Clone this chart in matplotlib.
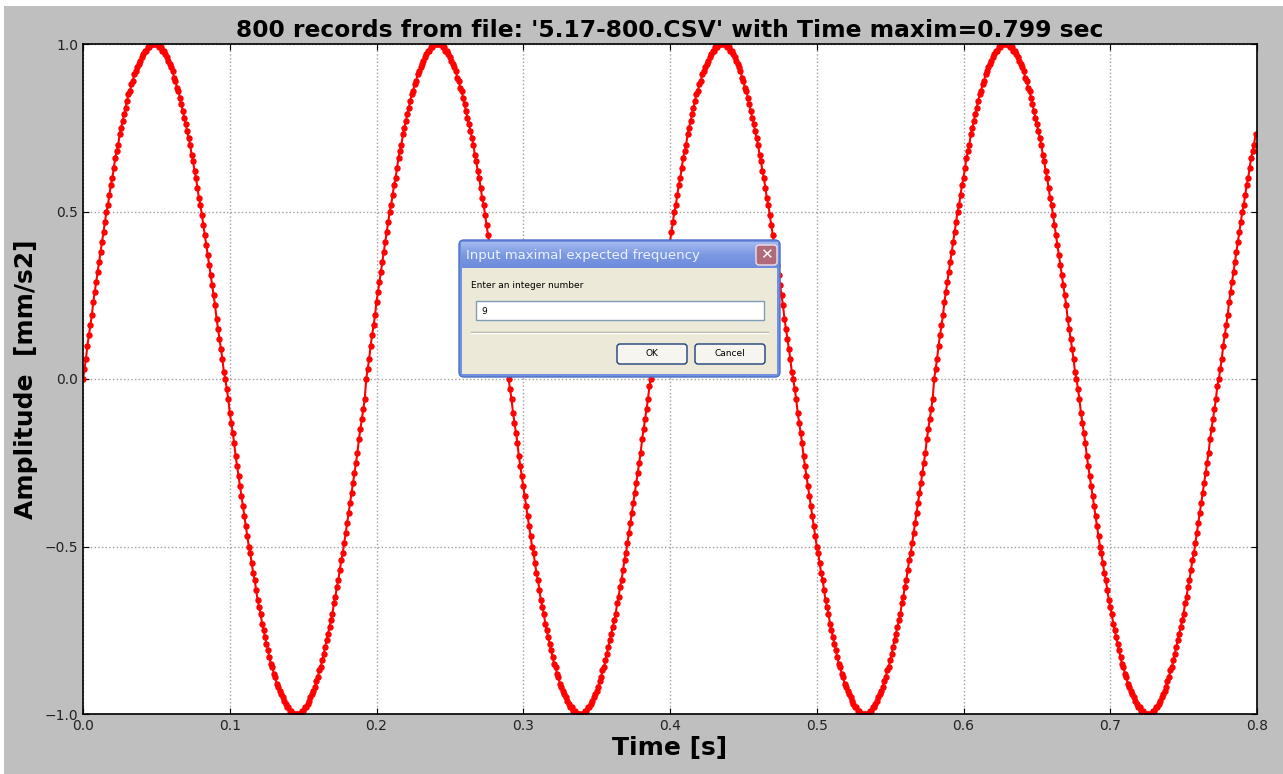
import numpy as np
import matplotlib
matplotlib.use("Agg")
import matplotlib.pyplot as plt
from matplotlib.patches import Rectangle, FancyBboxPatch

# Records read from '5.17-800.CSV' (one every 1 ms)
sample_interval = 0.001
amplitude = [
    # 0.000 - 0.096
    0.00, 0.03, 0.06, 0.10, 0.13, 0.16, 0.19, 0.23, 0.26, 0.29,
    0.32, 0.35, 0.38, 0.41, 0.44, 0.47, 0.50, 0.52, 0.55, 0.58,
    0.60, 0.63, 0.66, 0.68, 0.70, 0.73, 0.75, 0.77, 0.79, 0.81,
    0.83, 0.85, 0.86, 0.88, 0.89, 0.91, 0.92, 0.93, 0.94, 0.95,
    0.96, 0.97, 0.98, 0.98, 0.99, 0.99, 1.00, 1.00, 1.00, 1.00,
    1.00, 1.00, 0.99, 0.99, 0.98, 0.98, 0.97, 0.96, 0.95, 0.94,
    0.93, 0.92, 0.90, 0.89, 0.87, 0.86, 0.84, 0.82, 0.80, 0.78,
    0.76, 0.74, 0.72, 0.70, 0.67, 0.65, 0.62, 0.60, 0.57, 0.54,
    0.52, 0.49, 0.46, 0.43, 0.40, 0.37, 0.34, 0.31, 0.28, 0.25,
    0.22, 0.18, 0.15, 0.12, 0.09, 0.06, 0.02,
    # 0.097 - 0.192
    0.00, -0.03, -0.06, -0.10, -0.13, -0.16, -0.19, -0.23, -0.26, -0.29,
    -0.32, -0.35, -0.38, -0.41, -0.44, -0.47, -0.50, -0.52, -0.55, -0.58,
    -0.60, -0.63, -0.66, -0.68, -0.70, -0.73, -0.75, -0.77, -0.79, -0.81,
    -0.83, -0.85, -0.86, -0.88, -0.89, -0.91, -0.92, -0.93, -0.94, -0.95,
    -0.96, -0.97, -0.98, -0.98, -0.99, -0.99, -1.00, -1.00, -1.00, -1.00,
    -1.00, -1.00, -0.99, -0.99, -0.98, -0.98, -0.97, -0.96, -0.95, -0.94,
    -0.93, -0.92, -0.90, -0.89, -0.87, -0.86, -0.84, -0.82, -0.80, -0.78,
    -0.76, -0.74, -0.72, -0.70, -0.67, -0.65, -0.62, -0.60, -0.57, -0.54,
    -0.52, -0.49, -0.46, -0.43, -0.40, -0.37, -0.34, -0.31, -0.28, -0.25,
    -0.22, -0.18, -0.15, -0.12, -0.09, -0.06,
    # 0.193 - 0.289
    0.00, 0.03, 0.06, 0.10, 0.13, 0.16, 0.19, 0.23, 0.26, 0.29,
    0.32, 0.35, 0.38, 0.41, 0.44, 0.47, 0.50, 0.52, 0.55, 0.58,
    0.60, 0.63, 0.66, 0.68, 0.70, 0.73, 0.75, 0.77, 0.79, 0.81,
    0.83, 0.85, 0.86, 0.88, 0.89, 0.91, 0.92, 0.93, 0.94, 0.95,
    0.96, 0.97, 0.98, 0.98, 0.99, 0.99, 1.00, 1.00, 1.00, 1.00,
    1.00, 1.00, 0.99, 0.99, 0.98, 0.98, 0.97, 0.96, 0.95, 0.94,
    0.93, 0.92, 0.90, 0.89, 0.87, 0.86, 0.84, 0.82, 0.80, 0.78,
    0.76, 0.74, 0.72, 0.70, 0.67, 0.65, 0.62, 0.60, 0.57, 0.54,
    0.52, 0.49, 0.46, 0.43, 0.40, 0.37, 0.34, 0.31, 0.28, 0.25,
    0.22, 0.18, 0.15, 0.12, 0.09, 0.06, 0.02,
    # 0.290 - 0.386
    0.00, -0.03, -0.06, -0.10, -0.13, -0.16, -0.19, -0.23, -0.26, -0.29,
    -0.32, -0.35, -0.38, -0.41, -0.44, -0.47, -0.50, -0.52, -0.55, -0.58,
    -0.60, -0.63, -0.66, -0.68, -0.70, -0.73, -0.75, -0.77, -0.79, -0.81,
    -0.83, -0.85, -0.86, -0.88, -0.89, -0.91, -0.92, -0.93, -0.94, -0.95,
    -0.96, -0.97, -0.98, -0.98, -0.99, -0.99, -1.00, -1.00, -1.00, -1.00,
    -1.00, -1.00, -0.99, -0.99, -0.98, -0.98, -0.97, -0.96, -0.95, -0.94,
    -0.93, -0.92, -0.90, -0.89, -0.87, -0.86, -0.84, -0.82, -0.80, -0.78,
    -0.76, -0.74, -0.72, -0.70, -0.67, -0.65, -0.62, -0.60, -0.57, -0.54,
    -0.52, -0.49, -0.46, -0.43, -0.40, -0.37, -0.34, -0.31, -0.28, -0.25,
    -0.22, -0.18, -0.15, -0.12, -0.09, -0.06, -0.02,
    # 0.387 - 0.483
    0.00, 0.03, 0.06, 0.10, 0.13, 0.16, 0.19, 0.23, 0.26, 0.29,
    0.32, 0.35, 0.38, 0.41, 0.44, 0.47, 0.50, 0.52, 0.55, 0.58,
    0.60, 0.63, 0.66, 0.68, 0.70, 0.73, 0.75, 0.77, 0.79, 0.81,
    0.83, 0.85, 0.86, 0.88, 0.89, 0.91, 0.92, 0.93, 0.94, 0.95,
    0.96, 0.97, 0.98, 0.98, 0.99, 0.99, 1.00, 1.00, 1.00, 1.00,
    1.00, 1.00, 0.99, 0.99, 0.98, 0.98, 0.97, 0.96, 0.95, 0.94,
    0.93, 0.92, 0.90, 0.89, 0.87, 0.86, 0.84, 0.82, 0.80, 0.78,
    0.76, 0.74, 0.72, 0.70, 0.67, 0.65, 0.62, 0.60, 0.57, 0.54,
    0.52, 0.49, 0.46, 0.43, 0.40, 0.37, 0.34, 0.31, 0.28, 0.25,
    0.22, 0.18, 0.15, 0.12, 0.09, 0.06, 0.02,
    # 0.484 - 0.579
    0.00, -0.03, -0.06, -0.10, -0.13, -0.16, -0.19, -0.23, -0.26, -0.29,
    -0.32, -0.35, -0.38, -0.41, -0.44, -0.47, -0.50, -0.52, -0.55, -0.58,
    -0.60, -0.63, -0.66, -0.68, -0.70, -0.73, -0.75, -0.77, -0.79, -0.81,
    -0.83, -0.85, -0.86, -0.88, -0.89, -0.91, -0.92, -0.93, -0.94, -0.95,
    -0.96, -0.97, -0.98, -0.98, -0.99, -0.99, -1.00, -1.00, -1.00, -1.00,
    -1.00, -1.00, -0.99, -0.99, -0.98, -0.98, -0.97, -0.96, -0.95, -0.94,
    -0.93, -0.92, -0.90, -0.89, -0.87, -0.86, -0.84, -0.82, -0.80, -0.78,
    -0.76, -0.74, -0.72, -0.70, -0.67, -0.65, -0.62, -0.60, -0.57, -0.54,
    -0.52, -0.49, -0.46, -0.43, -0.40, -0.37, -0.34, -0.31, -0.28, -0.25,
    -0.22, -0.18, -0.15, -0.12, -0.09, -0.06,
    # 0.580 - 0.676
    0.00, 0.03, 0.06, 0.10, 0.13, 0.16, 0.19, 0.23, 0.26, 0.29,
    0.32, 0.35, 0.38, 0.41, 0.44, 0.47, 0.50, 0.52, 0.55, 0.58,
    0.60, 0.63, 0.66, 0.68, 0.70, 0.73, 0.75, 0.77, 0.79, 0.81,
    0.83, 0.85, 0.86, 0.88, 0.89, 0.91, 0.92, 0.93, 0.94, 0.95,
    0.96, 0.97, 0.98, 0.98, 0.99, 0.99, 1.00, 1.00, 1.00, 1.00,
    1.00, 1.00, 0.99, 0.99, 0.98, 0.98, 0.97, 0.96, 0.95, 0.94,
    0.93, 0.92, 0.90, 0.89, 0.87, 0.86, 0.84, 0.82, 0.80, 0.78,
    0.76, 0.74, 0.72, 0.70, 0.67, 0.65, 0.62, 0.60, 0.57, 0.54,
    0.52, 0.49, 0.46, 0.43, 0.40, 0.37, 0.34, 0.31, 0.28, 0.25,
    0.22, 0.18, 0.15, 0.12, 0.09, 0.06, 0.02,
    # 0.677 - 0.773
    0.00, -0.03, -0.06, -0.10, -0.13, -0.16, -0.19, -0.23, -0.26, -0.29,
    -0.32, -0.35, -0.38, -0.41, -0.44, -0.47, -0.50, -0.52, -0.55, -0.58,
    -0.60, -0.63, -0.66, -0.68, -0.70, -0.73, -0.75, -0.77, -0.79, -0.81,
    -0.83, -0.85, -0.86, -0.88, -0.89, -0.91, -0.92, -0.93, -0.94, -0.95,
    -0.96, -0.97, -0.98, -0.98, -0.99, -0.99, -1.00, -1.00, -1.00, -1.00,
    -1.00, -1.00, -0.99, -0.99, -0.98, -0.98, -0.97, -0.96, -0.95, -0.94,
    -0.93, -0.92, -0.90, -0.89, -0.87, -0.86, -0.84, -0.82, -0.80, -0.78,
    -0.76, -0.74, -0.72, -0.70, -0.67, -0.65, -0.62, -0.60, -0.57, -0.54,
    -0.52, -0.49, -0.46, -0.43, -0.40, -0.37, -0.34, -0.31, -0.28, -0.25,
    -0.22, -0.18, -0.15, -0.12, -0.09, -0.06, -0.02,
    # 0.774 - 0.799
    0.00, 0.03, 0.06, 0.10, 0.13, 0.16, 0.19, 0.23, 0.26, 0.29,
    0.32, 0.35, 0.38, 0.41, 0.44, 0.47, 0.50, 0.52, 0.55, 0.58,
    0.60, 0.63, 0.66, 0.68, 0.70, 0.73,
]
file_name = "5.17-800.CSV"
x_ticks = [0.0, 0.1, 0.2, 0.3, 0.4, 0.5, 0.6, 0.7, 0.8]
y_ticks = [-1.0, -0.5, 0.0, 0.5, 1.0]

time = np.arange(len(amplitude)) * sample_interval

W, H = 1283, 774
fig = plt.figure(figsize=(W / 100, H / 100), dpi=100, facecolor="white")
# grey window area (screenshot has a thin white edge top/left)
fig.add_artist(Rectangle((4 / W, 0), 1 - 4 / W, 768 / H, transform=fig.transFigure,
                         facecolor="#bfbfbf", edgecolor="none", zorder=-5))

ax = fig.add_axes([83 / W, 60 / H, 1174 / W, 670 / H])
ax.plot(time, amplitude, color="red", linewidth=1.5, marker="o", markersize=3.6,
        markeredgecolor="red", markerfacecolor="red")
ax.set_xlim(0, 0.8)
ax.set_ylim(-1, 1)
ax.set_xticks(x_ticks)
ax.set_yticks(y_ticks)
ax.tick_params(direction="in", length=4, labelsize=10, labelcolor="#222222",
               top=True, right=True)
ax.grid(True, linestyle=":", color="#a0a0a0", linewidth=1)
for s in ax.spines.values():
    s.set_linewidth(1.2)
ax.set_title(f"800 records from file: '{file_name}' with Time maxim={time[-1]:.3f} sec",
             fontsize=16.8, fontweight="bold", pad=5)
ax.set_xlabel("Time [s]", fontsize=18, fontweight="bold", labelpad=2)
ax.set_ylabel("Amplitude  [mm/s2]", fontsize=18, fontweight="bold", labelpad=5)

# the Tk input dialog sitting on top of the plot
ov = fig.add_axes([0, 0, 1, 1], zorder=10)
ov.set_xlim(0, W)
ov.set_ylim(H, 0)
ov.axis("off")
ov.patch.set_alpha(0)

ov.add_patch(FancyBboxPatch((459, 240), 321, 137, boxstyle="round,pad=0,rounding_size=5",
                            facecolor="#7090e0", edgecolor="#4f6fc8", linewidth=1))
grad = np.linspace(0, 1, 30).reshape(-1, 1)
ov.imshow(grad, extent=(461, 778, 268, 242), cmap=matplotlib.colors.LinearSegmentedColormap.from_list(
    "tb", ["#a2b8ee", "#7a98e2", "#6d8cdd"]), aspect="auto", zorder=2)
ov.add_patch(Rectangle((462, 268), 315, 106, facecolor="#ece9d8", edgecolor="none", zorder=3))
ov.text(466, 256, "Input maximal expected frequency", fontsize=9.5, color="#eef2ff",
        va="center", ha="left", zorder=4)
ov.add_patch(FancyBboxPatch((756, 245), 21, 20, boxstyle="round,pad=0,rounding_size=3",
                            facecolor="#b06a7a", edgecolor="#f0e0e8", linewidth=1, zorder=4))
ov.text(766.5, 255, "✕", fontsize=11, color="white", ha="center", va="center",
        fontweight="bold", zorder=5)
ov.text(471, 285, "Enter an integer number", fontsize=6.5, color="black",
        va="center", ha="left", zorder=4)
ov.add_patch(Rectangle((476, 301), 288, 19, facecolor="white", edgecolor="#7f9db9",
                       linewidth=1, zorder=4))
ov.text(481, 311, "9", fontsize=6.5, color="black", va="center", ha="left", zorder=5)
ov.plot([471, 768], [332, 332], color="#aca899", linewidth=1, zorder=4)
ov.plot([471, 768], [333, 333], color="white", linewidth=1, zorder=4)
for bx, label in [(617, "OK"), (695, "Cancel")]:
    ov.add_patch(FancyBboxPatch((bx, 344), 70, 20, boxstyle="round,pad=0,rounding_size=3",
                                facecolor="#f6f5f0", edgecolor="#1c3f7a", linewidth=1, zorder=4))
    ov.text(bx + 35, 354, label, fontsize=6.5, color="black", ha="center", va="center", zorder=5)

fig.savefig("out.png", dpi=100, facecolor=fig.get_facecolor())
